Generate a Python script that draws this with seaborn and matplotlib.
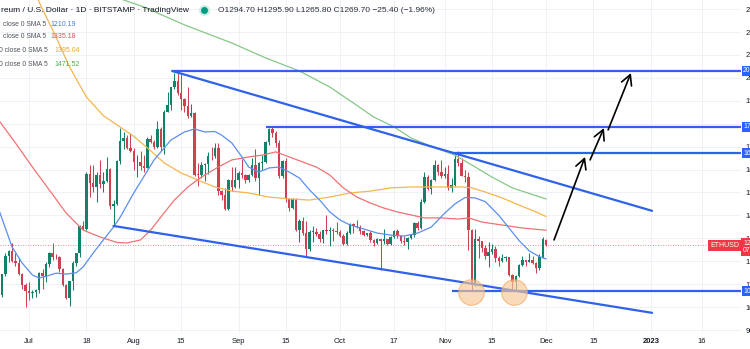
import matplotlib
matplotlib.use("Agg")
import matplotlib.pyplot as plt
import matplotlib.dates as mdates
from matplotlib import font_manager
from matplotlib.lines import Line2D
import numpy as np
import pandas as pd
import seaborn as sns

W, H = 750, 349

# ---------------- daily ETH/USD candles, 2022-06-22 .. 2022-12-01 ----------------
first_day = "2022-06-22"
opens = [
    1125, 1052, 1143, 1225, 1243, 1199, 1193, 1144, 1098,
    1070, 1060, 1067, 1075, 1150, 1134, 1186, 1238, 1220, 1217, 1167, 1097, 1038, 1112, 1192, 1234,
    1355, 1339, 1582, 1543, 1522, 1576, 1536, 1551, 1601, 1441, 1449, 1637, 1725, 1737, 1696,
    1679, 1632, 1632, 1617, 1608, 1735, 1722, 1700, 1776, 1698, 1853, 1880, 1958, 1985, 1935, 1906,
    1876, 1834, 1848, 1577, 1576, 1619, 1626, 1661, 1658, 1695, 1506, 1491, 1430, 1553, 1523,
    1553, 1586, 1577, 1556, 1577, 1618, 1561, 1629, 1635, 1719, 1776, 1761, 1715, 1573, 1637,
    1472, 1432, 1470, 1336, 1377, 1323, 1253, 1328, 1328, 1317, 1295, 1335, 1330, 1338, 1334,
    1328, 1311, 1276, 1323, 1362, 1352, 1351, 1331, 1315, 1322, 1292, 1280, 1295, 1288, 1296, 1276,
    1306, 1331, 1311, 1287, 1283, 1300, 1315, 1365, 1344, 1460, 1566, 1515, 1556, 1620, 1590,
    1572, 1580, 1519, 1531, 1645, 1628, 1572, 1568, 1335, 1100, 1299, 1287, 1256, 1222, 1242,
    1252, 1216, 1200, 1212, 1218, 1142, 1108, 1135, 1184, 1204, 1198, 1206, 1194, 1170, 1217,
    1294.70,
]
highs = [
    1140, 1145, 1236, 1250, 1280, 1235, 1215, 1148, 1105,
    1110, 1075, 1080, 1152, 1165, 1195, 1240, 1280, 1232, 1225, 1170, 1100, 1115, 1200, 1238,
    1360, 1375, 1590, 1620, 1620, 1590, 1640, 1590, 1655, 1605, 1465, 1640, 1780, 1765, 1750, 1760,
    1695, 1665, 1680, 1665, 1740, 1750, 1730, 1810, 1785, 1860, 1940, 1960, 2020, 2030, 2015,
    1910, 1960, 1885, 1850, 1630, 1635, 1630, 1675, 1700, 1715, 1715, 1510, 1520, 1560, 1610, 1610,
    1595, 1645, 1580, 1580, 1650, 1690, 1635, 1665, 1725, 1780, 1790, 1770, 1730, 1640, 1650,
    1475, 1475, 1475, 1385, 1395, 1375, 1335, 1352, 1345, 1330, 1338, 1400, 1350, 1345, 1370,
    1335, 1320, 1330, 1365, 1365, 1380, 1358, 1335, 1325, 1330, 1295, 1302, 1298, 1340, 1298,
    1310, 1335, 1340, 1312, 1310, 1305, 1320, 1370, 1375, 1470, 1590, 1575, 1560, 1640, 1625, 1640,
    1610, 1620, 1565, 1670, 1680, 1650, 1600, 1590, 1340, 1340, 1310, 1290, 1270, 1285, 1275,
    1265, 1225, 1230, 1225, 1220, 1145, 1140, 1190, 1225, 1207, 1235, 1225, 1196, 1230, 1305,
    1295.90,
]
lows = [
    1045, 1045, 1135, 1195, 1195, 1180, 1140, 1080, 1000,
    1030, 1040, 1042, 1060, 1080, 1110, 1175, 1205, 1210, 1155, 1092, 1035, 1005, 1075, 1180,
    1220, 1335, 1335, 1480, 1500, 1460, 1520, 1500, 1545, 1430, 1357, 1445, 1625, 1690, 1690, 1675,
    1600, 1568, 1600, 1590, 1605, 1715, 1690, 1695, 1680, 1670, 1850, 1860, 1950, 1925, 1860,
    1850, 1825, 1830, 1570, 1530, 1565, 1550, 1580, 1640, 1650, 1490, 1465, 1425, 1425, 1505, 1520,
    1520, 1565, 1540, 1545, 1570, 1550, 1490, 1600, 1630, 1705, 1740, 1700, 1565, 1565, 1460,
    1420, 1430, 1330, 1285, 1315, 1225, 1245, 1285, 1310, 1283, 1280, 1320, 1265, 1290, 1320,
    1305, 1270, 1270, 1320, 1325, 1345, 1320, 1310, 1310, 1285, 1265, 1275, 1160, 1275, 1270,
    1272, 1300, 1300, 1280, 1270, 1255, 1295, 1305, 1335, 1340, 1455, 1510, 1495, 1552, 1575, 1565,
    1565, 1510, 1500, 1528, 1615, 1570, 1545, 1250, 1075, 1090, 1215, 1240, 1210, 1175, 1230,
    1195, 1180, 1195, 1200, 1135, 1075, 1075, 1130, 1180, 1180, 1195, 1190, 1150, 1160, 1215,
    1265.80,
]
closes = [
    1052, 1143, 1225, 1243, 1199, 1193, 1144, 1098, 1070,
    1060, 1067, 1075, 1150, 1134, 1186, 1238, 1220, 1217, 1167, 1097, 1038, 1112, 1192, 1234,
    1355, 1339, 1582, 1543, 1522, 1576, 1536, 1551, 1601, 1441, 1449, 1637, 1725, 1737, 1696, 1679,
    1632, 1632, 1617, 1608, 1735, 1722, 1700, 1776, 1698, 1853, 1880, 1958, 1985, 1935, 1906,
    1876, 1834, 1848, 1577, 1576, 1619, 1626, 1661, 1658, 1695, 1506, 1491, 1430, 1553, 1523, 1553,
    1586, 1577, 1556, 1577, 1618, 1561, 1629, 1635, 1719, 1776, 1761, 1715, 1573, 1637, 1472,
    1432, 1470, 1336, 1377, 1323, 1253, 1328, 1328, 1317, 1295, 1335, 1330, 1338, 1334, 1328,
    1311, 1276, 1323, 1362, 1352, 1351, 1331, 1315, 1322, 1292, 1280, 1295, 1288, 1296, 1276,
    1306, 1331, 1311, 1287, 1283, 1300, 1315, 1365, 1344, 1460, 1566, 1515, 1556, 1620, 1590, 1572,
    1580, 1519, 1531, 1645, 1628, 1572, 1568, 1335, 1100, 1299, 1287, 1256, 1222, 1242, 1252,
    1216, 1200, 1212, 1218, 1142, 1108, 1135, 1184, 1204, 1198, 1206, 1194, 1170, 1217, 1295,
    1269.70,
]

# ---------------- moving averages (20 / 50 / 100 / 200 day) ----------------
sma20_dates = ["2022-06-22", "2022-06-26", "2022-06-29", "2022-07-02", "2022-07-04", "2022-07-06",
               "2022-07-09", "2022-07-12", "2022-07-15", "2022-07-17", "2022-07-20", "2022-07-23",
               "2022-07-26", "2022-07-28", "2022-08-01", "2022-08-07", "2022-08-12", "2022-08-16",
               "2022-08-19", "2022-08-22", "2022-08-25", "2022-08-27", "2022-08-30", "2022-09-02",
               "2022-09-04", "2022-09-07", "2022-09-10", "2022-09-13", "2022-09-16", "2022-09-19",
               "2022-09-22", "2022-09-25", "2022-09-28", "2022-10-01", "2022-10-04", "2022-10-08",
               "2022-10-12", "2022-10-16", "2022-10-20", "2022-10-24", "2022-10-28", "2022-11-01",
               "2022-11-04", "2022-11-07", "2022-11-10", "2022-11-13", "2022-11-17", "2022-11-20",
               "2022-11-23", "2022-11-26", "2022-11-29", "2022-12-01"]
sma20_vals = [1428, 1262, 1192, 1140, 1127, 1134, 1148, 1144, 1150, 1175, 1236, 1293,
              1349, 1393, 1498, 1642, 1729, 1764, 1777, 1764, 1766, 1750, 1716, 1655,
              1611, 1589, 1607, 1611, 1589, 1563, 1511, 1467, 1415, 1380, 1358, 1341,
              1323, 1314, 1310, 1323, 1349, 1410, 1450, 1478, 1476, 1460, 1400, 1345,
              1290, 1245, 1220, 1210.19]

sma50_dates = ["2022-06-22", "2022-06-27", "2022-07-02", "2022-07-07", "2022-07-12", "2022-07-17",
               "2022-07-22", "2022-07-27", "2022-07-30", "2022-08-03", "2022-08-06", "2022-08-09",
               "2022-08-13", "2022-08-17", "2022-08-21", "2022-08-26", "2022-08-30", "2022-09-04",
               "2022-09-08", "2022-09-12", "2022-09-16", "2022-09-20", "2022-09-24", "2022-09-28",
               "2022-10-02", "2022-10-06", "2022-10-10", "2022-10-14", "2022-10-18", "2022-10-22",
               "2022-10-26", "2022-10-31", "2022-11-05", "2022-11-08", "2022-11-12", "2022-11-18",
               "2022-11-24", "2022-12-01"]
sma50_vals = [1816, 1716, 1611, 1511, 1410, 1336, 1306, 1282, 1280, 1293, 1336, 1393,
              1467, 1524, 1567, 1611, 1642, 1655, 1663, 1677, 1655, 1633, 1611, 1576,
              1520, 1480, 1454, 1432, 1415, 1402, 1389, 1389, 1384, 1389, 1371, 1358,
              1345, 1335.18]

sma100_dates = ["2022-07-01", "2022-07-04", "2022-07-09", "2022-07-13", "2022-07-18", "2022-07-23",
                "2022-07-28", "2022-08-01", "2022-08-05", "2022-08-10", "2022-08-15", "2022-08-20",
                "2022-08-25", "2022-08-30", "2022-09-04", "2022-09-10", "2022-09-16", "2022-09-22",
                "2022-09-28", "2022-10-04", "2022-10-10", "2022-10-16", "2022-10-22", "2022-10-31",
                "2022-11-06", "2022-11-09", "2022-11-13", "2022-11-18", "2022-11-23", "2022-11-28",
                "2022-12-01"]
sma100_vals = [2440, 2330, 2178, 2047, 1916, 1835, 1785, 1745, 1695, 1629, 1585, 1554,
               1524, 1506, 1498, 1480, 1472, 1467, 1480, 1498, 1506, 1520, 1524, 1524,
               1524, 1520, 1502, 1476, 1445, 1415, 1395.04]

sma200_dates = ["2022-07-20", "2022-07-28", "2022-08-04", "2022-08-16", "2022-08-30", "2022-09-09",
                "2022-09-19", "2022-09-28", "2022-10-05", "2022-10-11", "2022-10-17", "2022-10-22",
                "2022-10-27", "2022-11-04", "2022-11-09", "2022-11-15", "2022-11-21", "2022-12-01"]
sma200_vals = [2400, 2345, 2309, 2231, 2152, 2087, 2030, 1960, 1890, 1829, 1786, 1738,
               1707, 1663, 1620, 1567, 1520, 1471.52]

# ---------------- drawn analysis objects ----------------
level_prices = [2030, 1786, 1672, 1070]
level_starts = ["2022-08-12 08:00", "2022-09-09 00:00", "2022-11-03 12:00", "2022-11-03 00:00"]
channel_upper = (["2022-08-12 08:00", "2023-01-01 08:00"], [2030, 1420])
channel_lower = (["2022-07-26 00:00", "2023-01-01 08:00"], [1354, 975])
arrow_tails = [("2022-12-03 08:00", 1293), ("2022-12-14 00:00", 1642), ("2022-12-19 08:00", 1773)]
arrow_heads = [("2022-12-12 12:00", 1655), ("2022-12-18 02:00", 1781), ("2022-12-26 02:00", 2021)]
low_marks = [("2022-11-08 20:00", 1066), ("2022-11-21 12:00", 1066)]

tick_dates = ["2022-07-01", "2022-07-18", "2022-08-01", "2022-08-15", "2022-09-01", "2022-09-15",
              "2022-10-01", "2022-10-17", "2022-11-01", "2022-11-15", "2022-12-01", "2022-12-15",
              "2023-01-01", "2023-01-16"]
tick_text = ["Jul", "18", "Aug", "15", "Sep", "15", "Oct", "17", "Nov", "15", "Dec", "15", "2023", "16"]
price_ticks = list(range(900, 2400, 100))
hidden_price_labels = [1800]   # covered by the 1786 level tag


def ts(values):
    return pd.to_datetime(values, format="mixed")


# ---------------- styling ----------------
UP, DOWN = "#13826a", "#cf414e"
BLUE_LINE = "#2f62ea"
SMA_COLORS = ["#5b8ef0", "#f07274", "#f7b54c", "#86c886"]
VALUE_COLORS = ["#4a7bd8", "#e0505f", "#f0a23a", "#4cae50"]
TXT = "#131722"

sns.set_theme(style="white")
available = {f.name for f in font_manager.fontManager.ttflist}
narrow = "Liberation Sans Narrow" in available
base_font = "Liberation Sans Narrow" if narrow else "Liberation Sans"
plt.rcParams["font.family"] = [base_font, "DejaVu Sans"]
k = 1.0 if narrow else 0.84

fig = plt.figure(figsize=(W / 100, H / 100), dpi=100)
fig.patch.set_facecolor("white")
ax = fig.add_axes([0, 16 / H, 741 / W, 333 / H])
ax.set_facecolor("white")

df = pd.DataFrame({
    "date": pd.date_range(first_day, periods=len(closes), freq="D"),
    "open": opens, "high": highs, "low": lows, "close": closes,
})
is_up = df["close"] >= df["open"]
colors = np.where(is_up, UP, DOWN)

# wicks and bodies
ax.vlines(df["date"], df["low"], df["high"], colors=colors, lw=0.75, zorder=3)
body = (df["close"] - df["open"]).abs().clip(lower=3)
ax.bar(df["date"], body, bottom=df[["open", "close"]].min(axis=1), width=0.72,
       color=colors, linewidth=0, zorder=4)

# moving averages
for dates, vals, col in [(sma200_dates, sma200_vals, SMA_COLORS[3]),
                         (sma100_dates, sma100_vals, SMA_COLORS[2]),
                         (sma50_dates, sma50_vals, SMA_COLORS[1]),
                         (sma20_dates, sma20_vals, SMA_COLORS[0])]:
    sns.lineplot(x=ts(dates), y=vals, ax=ax, color=col, lw=0.9,
                 estimator=None, sort=False, zorder=5)

# last price line
last_close = closes[-1]
ax.axhline(last_close, color="#f23645", lw=0.6, ls=(0, (1, 2)), alpha=0.8, zorder=1)

# channel and horizontal levels
x_far = pd.Timestamp("2023-02-15")
for xs, ys in (channel_upper, channel_lower):
    sns.lineplot(x=ts(xs), y=ys, ax=ax, color=BLUE_LINE, lw=1.6,
                 estimator=None, sort=False, zorder=6)
for start, lvl in zip(level_starts, level_prices):
    ax.hlines(lvl, pd.Timestamp(start), x_far, color=BLUE_LINE, lw=1.6, zorder=6)

# projected path
for (t0, p0), (t1, p1) in zip(arrow_tails, arrow_heads):
    ax.annotate("", xy=(mdates.date2num(pd.Timestamp(t1)), p1),
                xytext=(mdates.date2num(pd.Timestamp(t0)), p0),
                arrowprops=dict(arrowstyle="->,head_length=0.6,head_width=0.32",
                                color="black", lw=1.2, shrinkA=0, shrinkB=0,
                                mutation_scale=12),
                zorder=7)

# double-bottom markers
ax.scatter(ts([d for d, _ in low_marks]), [p for _, p in low_marks],
           s=340, color="#f6c896", alpha=0.65, edgecolor="#f0a55c", linewidth=0.8, zorder=8)

# axes, ticks, grid
ax.set_xlim(pd.Timestamp("2022-06-22 10:00"), pd.Timestamp("2023-01-27 15:30"))
ax.set_ylim(887.0, 2339.6)
ax.set_xticks(ts(tick_dates))
ax.set_xticklabels(tick_text)
ax.set_yticks(price_ticks)
ax.set_yticklabels(["" if v in hidden_price_labels else f"{v:.2f}" for v in price_ticks])
ax.yaxis.tick_right()
ax.tick_params(axis="x", length=0, pad=3.5, labelsize=6.6 * k, labelcolor=TXT)
ax.tick_params(axis="y", length=0, pad=3.0, labelsize=6.6 * k, labelcolor=TXT)
for lab in ax.get_xticklabels():
    if lab.get_text() == "2023":
        lab.set_fontweight("bold")
ax.grid(True, color="#eef1f6", lw=0.7)
ax.set_axisbelow(True)
for s in ax.spines.values():
    s.set_visible(False)
ax.set_xlabel("")
ax.set_ylabel("")

# price-scale tags
for lvl in level_prices:
    ax.annotate(f"{lvl:.2f}", xy=(1.0, lvl), xycoords=("axes fraction", "data"),
                xytext=(1.5, 0), textcoords="offset points", ha="left", va="center",
                fontsize=5.8 * k, color="white", annotation_clip=False, zorder=9,
                bbox=dict(boxstyle="square,pad=0.2", fc="#2962ff", ec="none"))
ax.annotate("ETHUSD", xy=(1.0, last_close), xycoords=("axes fraction", "data"),
            xytext=(-1.5, 0), textcoords="offset points", ha="right", va="center",
            fontsize=6 * k, color="white", annotation_clip=False, zorder=9,
            bbox=dict(boxstyle="square,pad=0.3", fc="#f23645", ec="none"))
ax.annotate(f"{last_close:.2f}\n07:14:52", xy=(1.0, last_close), xycoords=("axes fraction", "data"),
            xytext=(1.5, 4), textcoords="offset points", ha="left", va="top",
            fontsize=5.8 * k, color="white", linespacing=1.1, annotation_clip=False, zorder=9,
            bbox=dict(boxstyle="square,pad=0.25", fc="#f23645", ec="none"))

# header
fy = lambda py: 1 - py / H
fx = lambda px: px / W
fig.text(fx(1), fy(10), "reum / U.S. Dollar · 1D · BITSTAMP · TradingView",
         fontsize=7.2 * k, color=TXT, ha="left", va="center")
fig.add_artist(Line2D([fx(204)], [fy(10)], marker="o", ms=7, color="#cdeee6",
                      transform=fig.transFigure, lw=0))
fig.add_artist(Line2D([fx(204)], [fy(10)], marker="o", ms=4, color="#089981",
                      transform=fig.transFigure, lw=0))
fig.text(fx(218), fy(10), "O1294.70 H1295.90 L1265.80 C1269.70 −25.40 (−1.96%)",
         fontsize=7.2 * k, color="#2a2e39", ha="left", va="center")

# indicator legend
legend_rows = [24, 37, 51, 64]
legend_labels = ["close 0 SMA 5", "close 0 SMA 5", "0 close 0 SMA 5", "0 close 0 SMA 5"]
legend_x = [3, 3, -1, -1]
value_x = [50, 50, 54, 54]
legend_vals = [sma20_vals[-1], sma50_vals[-1], sma100_vals[-1], sma200_vals[-1]]
for row, lab, lx, vx, val, col in zip(legend_rows, legend_labels, legend_x, value_x,
                                      legend_vals, VALUE_COLORS):
    fig.text(fx(lx), fy(row), lab, fontsize=5.8 * k, color="#50535e", ha="left", va="center")
    fig.text(fx(vx), fy(row), f"{val:.2f}", fontsize=6.0 * k, color=col, ha="left", va="center")

fig.savefig("out.png", dpi=100, facecolor="white")
